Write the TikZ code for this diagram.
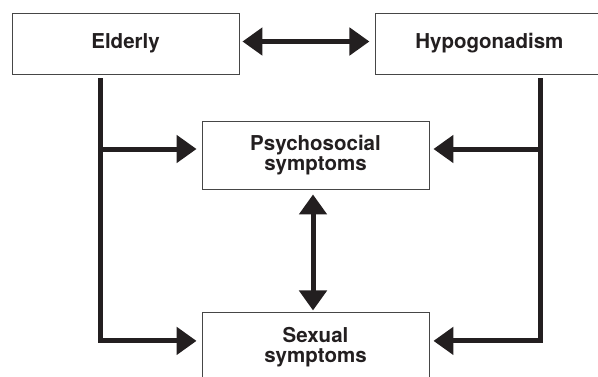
\documentclass[tikz,border=0pt]{standalone}
\usepackage{xcolor}
\usepackage{fontspec}
\setmainfont{TeX Gyre Heros}
\usepackage{tikz}
\usetikzlibrary{arrows.meta, positioning, calc}
\definecolor{inkblack}{RGB}{35, 31, 32}
\definecolor{boxgray}{RGB}{70, 70, 70}

\tikzset{
    block/.style={draw=boxgray, line width=0.9pt, fill=white, text=inkblack,
        minimum width=227pt, inner sep=0pt, align=center,
        font=\bfseries\fontsize{20.5}{20}\selectfont},
    bigtip/.tip={Triangle[length=20pt, width=27pt]},
    link/.style={draw=inkblack, line width=5pt, -bigtip},
    twoway/.style={draw=inkblack, line width=5pt, bigtip-bigtip}
}

\begin{document}
\begin{tikzpicture}[x=1pt, y=1pt]
    \useasboundingbox (0,0) rectangle (598,-376);

    % causes
    \node[block, minimum height=61pt] (elderly) at (125.5,-43.5) {Elderly};
    \node[block, minimum height=61pt, right=136pt of elderly] (hypo) {Hypogonadism};

    % symptoms
    \node[block, minimum height=68pt] (psych) at (315.5,-155) {Psychosocial\\symptoms};
    \node[block, minimum height=68pt, below=123pt of psych] (sexual) {Sexual\\symptoms};

    \coordinate (ltop) at ([xshift=-25.5pt, yshift=-4pt]elderly.south);
    \coordinate (rtop) at ([xshift=51.5pt, yshift=-4pt]hypo.south);

    \draw[twoway, shorten <=3pt, shorten >=6pt] ([yshift=2pt]elderly.east) -- ([yshift=2pt]hypo.west);
    \draw[twoway, shorten <=5pt, shorten >=2pt] ([xshift=-2.5pt]psych.south) -- ([xshift=-2.5pt]sexual.north);

    \draw[link, shorten >=5pt] (ltop) |- ([yshift=6pt]psych.west);
    \draw[link, shorten >=5pt] (ltop) |- ([yshift=6pt]sexual.west);
    \draw[link, shorten >=4pt] (rtop) |- ([yshift=6pt]psych.east);
    \draw[link, shorten >=4pt] (rtop) |- ([yshift=6pt]sexual.east);
\end{tikzpicture}
\end{document}
